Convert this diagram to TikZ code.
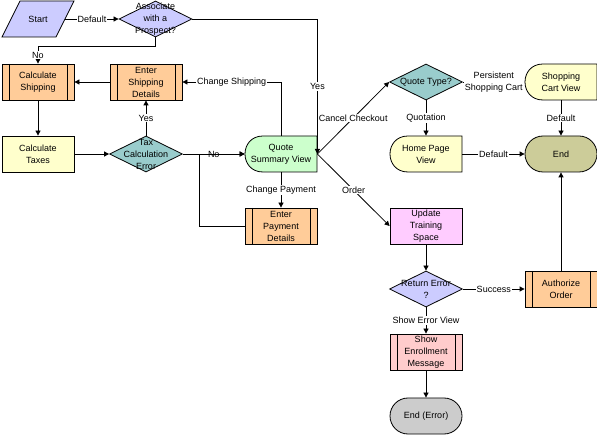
\documentclass[tikz,border=0pt]{standalone}
\usepackage{fontspec}
\setmainfont{Liberation Sans}
\usetikzlibrary{arrows.meta,shapes.geometric,shapes.misc,positioning}
\definecolor{lavfill}{HTML}{CCCCFF}
\definecolor{peachfill}{HTML}{FFCC99}
\definecolor{creamfill}{HTML}{FFFFCC}
\definecolor{tealfill}{HTML}{99CCCC}
\definecolor{mintfill}{HTML}{CCFFCC}
\definecolor{orchidfill}{HTML}{FFCCFF}
\definecolor{rosefill}{HTML}{FFCCCC}
\definecolor{khakifill}{HTML}{CCCC99}
\definecolor{greyfill}{HTML}{CCCCCC}

% display outline: centre x, centre y, fill
\newcommand\dispshape[3]{%
  \filldraw[fill=#3] (#1-18,#2-18) -- (#1+36,#2-18) -- (#1+36,#2+18) -- (#1-18,#2+18)
    .. controls (#1-42,#2+18) and (#1-42,#2-18) .. (#1-18,#2-18) -- cycle;}

\tikzset{
  every node/.style={font=\fontsize{9}{12}\selectfont, align=center},
  txt/.style={label={center:#1}},
  box/.style={draw, rectangle, minimum width=72pt, minimum height=36pt, inner sep=0pt},
  predef/.style={box, path picture={
      \draw ([xshift=7pt]path picture bounding box.north west) -- ([xshift=7pt]path picture bounding box.south west);
      \draw ([xshift=-7pt]path picture bounding box.north east) -- ([xshift=-7pt]path picture bounding box.south east);}},
  decision/.style={draw, diamond, minimum width=73pt, minimum height=36pt, inner sep=0pt},
  term/.style={draw, rounded rectangle, minimum width=72pt, inner sep=0pt, text height=18pt, text depth=18pt},
  disp/.style={box, draw=none},
  lbl/.style={fill=white, inner sep=1pt},
  flow/.style={-{Triangle[length=5pt,width=5pt]}}
}

\begin{document}
\begin{tikzpicture}[x=1pt, y=-1pt, line width=0.8pt]
  \useasboundingbox (0,0) rectangle (597,435);
  % Start and first decision
  \filldraw[fill=lavfill] (2,37) -- (20,1) -- (74,1) -- (56,37) -- cycle;
  \node[minimum width=54pt, minimum height=36pt, inner sep=0pt] (start) at (38,19) {Start};
  \node[decision, fill=lavfill, txt={Associate\\with a\\Prospect?}] (assoc) at (155.5,19) {};
  % Shipping and taxes
  \node[predef, fill=peachfill] (calcship) at (38,82) {Calculate\\Shipping};
  \node[predef, fill=peachfill] (entship) at (146,82) {Enter\\Shipping\\Details};
  \node[box, fill=creamfill] (calctax) at (38,154) {Calculate\\Taxes};
  \node[decision, fill=tealfill, txt={Tax\\Calculation\\Error}] (tax) at (146,154) {};
  % Quote summary and payment
  \dispshape{281}{154}{mintfill}
  \node[disp] (qsv) at (281,154) {Quote\\Summary View};
  \node[predef, fill=peachfill] (pay) at (281,226) {Enter\\Payment\\Details};
  % Quote type branch
  \node[decision, fill=tealfill, txt={Quote Type?}] (qtype) at (426,82) {};
  \dispshape{561}{82}{creamfill}
  \node[disp] (shopcart) at (561,82) {Shopping\\Cart View};
  \dispshape{426}{154}{creamfill}
  \node[disp] (home) at (426,154) {Home Page\\View};
  \node[term, fill=khakifill, txt={End}] (endok) at (561,154) {};
  % Order branch
  \node[box, fill=orchidfill] (uts) at (426,226) {Update\\Training\\Space};
  \node[decision, fill=lavfill, txt={Return Error\\?}] (reterr) at (426,289) {};
  \node[predef, fill=peachfill] (auth) at (561,289) {Authorize\\Order};
  \node[predef, fill=rosefill] (sem) at (426,352) {Show\\Enrollment\\Message};
  \node[term, fill=greyfill, txt={End (Error)}] (enderr) at (426,416) {};

  % Connectors
  \draw[flow] (start) -- node[lbl] {Default} (assoc);
  \draw[flow] (assoc.south) -- ++(0,9) -| node[lbl, pos=0.75] {No} (calcship.north);
  \draw[flow] (entship) -- (calcship);
  \draw[flow] (calcship) -- (calctax);
  \draw[flow] (calctax) -- (tax);
  \draw[flow] (tax) -- node[lbl] {Yes} (entship);
  \draw[flow] (tax) -- node[lbl] {No} (qsv);
  \draw[flow] (pay.west) -- ++(-45,0) |- (qsv.west);
  \draw[flow] (qsv.north) |- node[lbl, pos=0.75] {Change Shipping} (entship.east);
  \draw[flow] (assoc.east) -| node[lbl, pos=0.75] {Yes} (qsv.east);
  \draw[flow] (qsv.east) -- node[lbl] {Cancel Checkout} (qtype.west);
  \draw[flow] (qsv.east) -- node[lbl] {Order} (uts.west);
  \draw[flow] (qsv) -- node[lbl] {Change Payment} (pay);
  \draw[flow] (qtype) -- node[lbl] {Persistent\\Shopping Cart} (shopcart);
  \draw[flow] (qtype) -- node[lbl] {Quotation} (home);
  \draw[flow] (home) -- node[lbl] {Default} (endok);
  \draw[flow] (shopcart) -- node[lbl] {Default} (endok);
  \draw[flow] (uts) -- (reterr);
  \draw[flow] (reterr) -- node[lbl] {Success} (auth);
  \draw[flow] (auth) -- (endok);
  \draw[flow] (reterr) -- node[lbl] {Show Error View} (sem);
  \draw[flow] (sem) -- (enderr);
\end{tikzpicture}
\end{document}
